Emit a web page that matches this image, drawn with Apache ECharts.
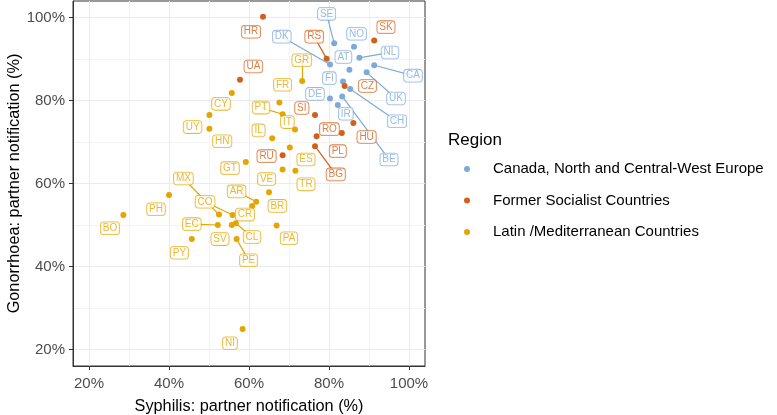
<!DOCTYPE html>
<html>
<head>
<meta charset="utf-8">
<script src="https://cdn.jsdelivr.net/npm/echarts@6/dist/echarts.min.js"></script>
<style>
html, body { margin: 0; padding: 0; background: #fff; }
#myChart { width: 777px; height: 415px; }
</style>
</head>
<body>
<div id="myChart"></div>
<script>
// regions (legend order)
var regionNames = ['Canada, North and Central-West Europe', 'Former Socialist Countries', 'Latin /Mediterranean Countries'];

// one entry per country
var countries = ['SE','NO','DK','NL','CA','AT','UK','FI','CH','DE','BE','IR',
  'SK','HR','RS','UA','CZ','SI','HU','PL','RO','BG','RU',
  'GR','FR','CY','PT','HN','UY','IT','IL','ES','GT','VE','TR','BR','AR','CR','CO','MX','EC','SV','CL','PE','PY','PH','BO','NI','PA'];
var countryRegion = [0,0,0,0,0,0,0,0,0,0,0,0,
  1,1,1,1,1,1,1,1,1,1,1,
  2,2,2,2,2,2,2,2,2,2,2,2,2,2,2,2,2,2,2,2,2,2,2,2,2,2];
// Syphilis: partner notification (%)
var syphilis = [81.3,86.25,80.25,87.6,91.3,85.1,89.4,83.5,85.3,80.25,83.3,82.2,
  91.3,63.5,79.4,57.75,83.9,76.5,86.1,83.2,76.9,76.5,68.4,
  73.3,67.6,55.7,68.4,50.1,50.1,71.5,65.8,70.2,59.2,68.4,71.6,65.0,61.8,60.8,55.9,52.5,52.2,55.7,56.7,56.9,45.7,40.0,28.6,58.4,66.9];
// Gonorrhoea: partner notification (%)
var gonorrhoea = [93.8,93.0,88.7,90.3,88.5,87.4,86.8,84.6,82.8,80.5,81.0,78.9,
  94.5,100.2,90.1,85.0,83.5,76.5,74.6,72.2,71.4,69.0,66.8,
  84.7,79.5,81.8,76.7,76.5,73.2,73.0,70.9,68.7,65.2,63.4,63.1,57.9,55.6,54.6,52.4,52.5,50.0,50.0,50.4,46.6,46.6,57.2,52.4,24.9,49.9];
// where the repelled labels ended up (same units as the data)
var labelSyphilis = [79.4,86.9,68.2,95.25,101,83.6,96.75,80.1,97,76.5,95,84.2,
  94.25,60.5,76.3,61.1,89.6,73.2,89.4,82.2,80.1,81.7,64.4,
  73.2,68.4,53,63,53.3,45.9,69.6,62.4,74.25,55.25,64.4,74.25,67.1,56.9,59,49,43.6,45.7,52.75,60.75,59.9,42.6,36.75,25.25,55.25,70];
var labelGonorrhoea = [100.9,96.1,95.4,91.6,86.0,90.5,80.5,85.4,75.0,81.6,65.8,76.8,
  97.7,96.6,95.4,88.2,83.5,78.2,71.2,67.8,73.1,62.2,66.6,
  89.7,83.8,79.2,78.3,70.2,73.6,74.8,72.8,65.8,63.7,61.1,59.8,54.6,58.1,52.5,55.6,61.2,50.2,46.6,47.1,41.5,43.3,53.8,49.2,21.5,46.8];
// labels that got a connecting segment
var withSegment = ['SE','DK','NL','CA','UK','CH','BE','RS','BG','GR','PT','AR','CO','MX','EC','CL','PE'];

var majorBreaks = [20, 40, 60, 80, 100];
var minorBreaks = [30, 50, 70, 90];

var regionColors = ['#7EAAD9', '#D2601A', '#E3A600'];
var fontFamily = '"Liberation Sans", Arial, sans-serif';

var gridLines = function(breaks, color, width) {
  var out = [];
  breaks.forEach(function(b) {
    out.push({ xAxis: b, lineStyle: { color: color, width: width, type: 'solid' } });
    out.push({ yAxis: b, lineStyle: { color: color, width: width, type: 'solid' } });
  });
  return out;
};

var buildSeries = function() {
  var series = [];
  // background grid, kept under the points
  series.push({
    name: 'grid',
    type: 'scatter',
    data: [],
    z: 0,
    silent: true,
    markLine: {
      z: 0,
      silent: true,
      animation: false,
      symbol: ['none', 'none'],
      label: { show: false },
      emphasis: { disabled: true },
      data: gridLines(minorBreaks, '#F3F3F3', 1).concat(gridLines(majorBreaks, '#EBEBEB', 1))
    }
  });

  regionNames.forEach(function(region, r) {
    var points = [], labels = [], segments = [];
    countries.forEach(function(code, i) {
      if (countryRegion[i] !== r) return;
      points.push([syphilis[i], gonorrhoea[i], code]);
      labels.push({ name: code, value: [labelSyphilis[i], labelGonorrhoea[i]] });
      if (withSegment.indexOf(code) >= 0) {
        segments.push([{ coord: [syphilis[i], gonorrhoea[i]] }, { coord: [labelSyphilis[i], labelGonorrhoea[i]] }]);
      }
    });

    series.push({
      name: region,
      type: 'scatter',
      data: points,
      symbolSize: 6,
      z: 2,
      itemStyle: { color: regionColors[r], opacity: 1 },
      emphasis: { disabled: true }
    });
    series.push({
      name: region + ' segments',
      type: 'scatter',
      data: [],
      z: 3,
      silent: true,
      markLine: {
        z: 3,
        silent: true,
        animation: false,
        symbol: ['none', 'none'],
        label: { show: false },
        emphasis: { disabled: true },
        lineStyle: { color: regionColors[r], width: 1.2, type: 'solid' },
        data: segments
      }
    });
    series.push({
      name: region + ' labels',
      type: 'scatter',
      data: labels,
      symbolSize: 0,
      z: 4,
      silent: true,
      label: {
        show: true,
        position: 'inside',
        formatter: '{b}',
        color: regionColors[r],
        fontFamily: fontFamily,
        fontSize: 10,
        lineHeight: 10,
        backgroundColor: '#fff',
        borderColor: regionColors[r],
        borderWidth: 0.8,
        borderRadius: 3,
        padding: [1, 2, 1, 2]
      }
    });
  });
  return series;
};

var initOption = function() {
  var axisCommon = {
    type: 'value',
    min: 16,
    max: 104,
    axisLine: { show: true, lineStyle: { color: '#333333', width: 1 } },
    axisTick: { show: true, length: 4, customValues: majorBreaks, lineStyle: { color: '#333333' } },
    axisLabel: {
      customValues: majorBreaks,
      formatter: function(v) { return v + '%'; },
      color: '#4D4D4D',
      fontSize: 15,
      fontFamily: fontFamily
    },
    splitLine: { show: false },
    nameLocation: 'middle',
    nameTextStyle: { color: '#000', fontSize: 16.3, fontFamily: fontFamily }
  };

  return {
    animation: false,
    backgroundColor: '#fff',
    title: {
      text: 'Region',
      left: 443,
      top: 127,
      textStyle: { color: '#000', fontSize: 17, fontWeight: 'normal', fontFamily: fontFamily }
    },
    legend: {
      data: regionNames,
      orient: 'vertical',
      left: 459,
      top: 155,
      icon: 'circle',
      itemWidth: 42,
      itemHeight: 6,
      itemGap: 13.5,
      selectedMode: false,
      textStyle: { color: '#000', fontSize: 15, lineHeight: 18, fontFamily: fontFamily }
    },
    grid: {
      left: 73,
      right: 352,
      top: 1,
      bottom: 49,
      outerBoundsMode: 'none',
      containLabel: false,
      show: true,
      borderColor: '#333333',
      borderWidth: 1,
      backgroundColor: '#fff'
    },
    xAxis: Object.assign({}, axisCommon, {
      name: 'Syphilis: partner notification (%)',
      nameGap: 33,
      axisLabel: Object.assign({}, axisCommon.axisLabel, { margin: 10 })
    }),
    yAxis: Object.assign({}, axisCommon, {
      name: 'Gonorrhoea: partner notification (%)',
      nameGap: 50,
      axisLabel: Object.assign({}, axisCommon.axisLabel, { margin: 8 })
    }),
    series: buildSeries()
  };
};

var chart = echarts.init(document.getElementById('myChart'));
chart.setOption(initOption());
</script>
</body>
</html>
